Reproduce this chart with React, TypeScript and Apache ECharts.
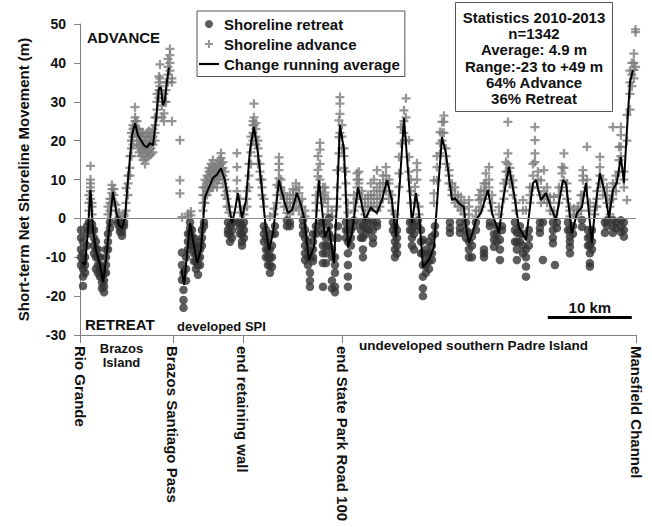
import React, { useEffect, useRef } from "react";
import * as echarts from "echarts";

const FONT = '"Liberation Sans", Arial, Helvetica, sans-serif';

// x = km along shore from Rio Grande, y = net shoreline movement (m)
const xMax = 66.2;
const tickKm = [0, 11.07, 19.4, 31.2, 66.2];
const tickNames = [
  "Rio Grande",
  "Brazos Santiago Pass",
  "end retaining wall",
  "end State Park Road 100",
  "Mansfield Channel",
];
const yTicks = [-30, -20, -10, 0, 10, 20, 30, 40, 50];

const advanceCols: [number, number[]][] = [
  [1.07, [2, 4, 6]], [1.25, [5, 7, 8, 9, 10, 13.5]], [1.43, [1, 3, 4]],
  [3.33, [1, 3]], [3.57, [2, 4, 5]], [3.8, [5, 6.5, 7.5, 8.6]], [4.05, [4, 6, 7.5]],
  [4.29, [2, 3.5]], [4.64, [0.5, 1.5]], [5.24, [0.5, 1]], [5.48, [2, 4, 7.8]],
  [5.71, [6, 9, 11]], [5.95, [11, 13, 16]], [6.13, [16, 18, 20, 22]], [6.31, [19, 21, 23, 24]],
  [6.55, [22, 23.5, 25, 26, 28.6]], [6.79, [19, 21, 23, 25]], [7.02, [17, 18.5, 20, 21.5, 23]],
  [7.26, [16, 17.5, 19, 21, 22]], [7.5, [15, 17, 18, 20, 22]], [7.74, [14, 16, 18, 19.5, 21]],
  [7.98, [15.5, 17, 18.5, 20, 22]], [8.21, [16, 17.5, 19, 21, 22.5]], [8.45, [16.5, 18, 19.5, 21]],
  [8.69, [17, 19, 21, 23]], [8.93, [20, 22, 24, 26]], [9.17, [26, 28, 30, 32]],
  [9.4, [31, 33, 35, 36.5]], [9.52, [34, 36, 39.6]], [9.76, [26, 29, 31]], [10.0, [25, 27, 30, 32]],
  [10.24, [30, 33, 35]], [10.48, [35, 37, 39, 41]], [10.71, [38, 40, 42, 43.6]], [10.95, [25, 35, 36]],
  [11.9, [6.4, 9.8, 20.1]],
  [12.14, [0.3]], [12.86, [0.5, 1.2]], [13.21, [0.8, 1.8]], [14.64, [2, 4, 6, 8]],
  [14.88, [4, 6, 8, 10]], [15.12, [6, 8, 9.5, 11]], [15.36, [7, 9, 10.5, 12, 13]],
  [15.6, [8, 9.5, 11, 12.5, 14]], [15.83, [8, 10, 11.5, 13, 15]], [16.07, [9, 10.5, 12, 13.5]],
  [16.31, [8, 10, 12, 14]], [16.55, [10, 12, 13.5, 15]], [16.79, [11, 12.5, 14, 15.5, 16.8]],
  [17.02, [9, 11, 13, 14.5]], [17.26, [6, 8, 10, 12]], [17.5, [3, 5, 7]], [17.74, [1.5, 3]],
  [18.69, [7, 9.8, 13.2, 16.8]], [19.05, [1.5, 3, 5]], [19.52, [1, 2.5]], [19.88, [3, 5, 7]],
  [20.12, [8, 11, 14]], [20.36, [14, 17, 19, 21]], [20.6, [20, 22, 24, 25]], [20.71, [24, 26, 29.5]],
  [20.95, [19, 21, 23, 24.5]], [21.19, [14, 16, 18, 20]], [21.43, [10, 12, 14]], [21.67, [6, 8, 10]],
  [21.9, [3, 5]], [22.62, [0.5]], [23.1, [1, 2.5]],
  [23.45, [4, 6, 8.6]], [23.69, [8, 10.3, 12.4, 14, 15.7]], [23.93, [6, 8, 10]], [24.29, [3, 5, 6.5]],
  [24.64, [1.4, 3, 5]], [25.0, [1, 2.5, 4, 6]], [25.36, [2, 4, 6, 7.5]], [25.71, [3, 5, 7.3, 9]],
  [26.07, [2.5, 4.5, 6.5, 8]], [26.43, [1, 3, 5]], [26.79, [0.5, 2]], [28.1, [2, 4, 6]],
  [28.33, [8, 10.8, 12.5, 16]], [28.57, [10, 14, 17.7, 19.4]], [28.93, [4, 6, 8]], [29.17, [5, 6.6, 8]],
  [29.52, [1, 3, 5]], [30.0, [0.5, 2]], [30.6, [3, 5, 8, 12.4]], [30.83, [16.7, 20.9, 25.2]],
  [30.95, [22, 26.9, 29.5, 31.2]], [31.19, [18, 21, 24]], [31.43, [13, 16, 18]], [31.67, [6, 9, 12]],
  [31.9, [1.5, 4]], [32.62, [2, 4, 6]], [32.98, [5, 8, 10, 11.6]], [33.21, [6.5, 9, 10, 12]],
  [33.57, [3, 5, 7]], [33.93, [1, 3, 5]], [34.29, [2, 4, 6]], [34.64, [3, 5, 6, 9]],
  [35.0, [3, 5, 7, 10]], [35.36, [2, 4, 6, 8, 12.4]], [35.71, [3, 5, 7, 9]], [36.07, [5, 7, 9, 11]],
  [36.43, [7, 9, 11, 13.2]], [36.79, [5, 7, 9, 10]], [37.14, [2, 4, 6]], [37.5, [1]],
  [37.98, [8.1, 11.6, 15.8]], [38.21, [19.3, 23.5]], [38.57, [22, 25, 27.8]], [38.81, [20, 26, 30.9]],
  [39.17, [12, 15.8, 20.1]], [39.4, [4, 7, 10]], [39.88, [4, 6, 8.1]], [40.12, [10, 12.4, 14.2]],
  [40.36, [1, 3]], [42.14, [4, 6.4, 9.8]], [42.5, [9.8, 13.2, 16]], [42.86, [16.7, 19.3, 22.2]],
  [43.1, [20, 22, 24.8]], [43.33, [22, 24.8, 26.4]], [43.57, [14, 16, 18]], [43.93, [9, 11, 12.4]],
  [44.29, [6, 7.3, 9]], [44.64, [4, 6, 8]], [45.0, [3, 4.5, 6]], [45.36, [2, 4, 5.5]], [45.71, [1, 2.5, 4]],
  [46.31, [1, 3, 4.7]], [47.14, [0.5, 2]], [47.5, [2, 4.7, 6]], [47.74, [3, 5, 7.3]], [48.1, [5, 7, 9]],
  [48.33, [7, 9, 11.6]], [48.69, [8, 10, 13.2]], [49.05, [2, 4, 6]], [49.88, [1, 2.9]],
  [50.48, [5, 7, 9]], [50.71, [10, 12, 14.5]], [50.95, [12, 14, 16.7, 24.8]], [51.19, [9, 11, 13]],
  [51.55, [6, 8, 9.8]], [51.9, [2, 4]], [52.74, [2, 4.7]], [53.1, [2.1]], [53.57, [4, 6, 8]],
  [53.93, [8, 11, 14]], [54.17, [14.5, 16.7, 20.1, 23.5]], [54.52, [8, 10, 12]], [54.88, [4, 6, 9.8]],
  [55.24, [5, 7, 12.4]], [55.6, [4, 6, 8]], [55.95, [2, 4, 5.5]], [56.43, [1, 2, 5.5]],
  [57.02, [4, 6, 8]], [57.38, [8, 11.6, 13.2]], [57.62, [9.8, 13, 16.7]],
  [57.98, [5, 7, 9]], [58.33, [0.5, 2, 3]], [58.81, [1, 2.5]], [59.29, [1, 2, 3]], [59.64, [2, 4, 6]],
  [59.88, [6, 9.8, 11, 12.4]], [60.36, [8, 10, 18.4]], [60.71, [2, 4]], [61.31, [1, 3]],
  [61.55, [3, 5, 7]], [61.9, [9, 11, 13.2, 15.8]], [62.26, [6, 8, 10]], [62.74, [4, 6, 8]],
  [63.1, [1, 3, 4.7]], [63.45, [5, 7, 9, 23.5]], [63.81, [7, 9, 11]], [64.17, [12, 15, 18.4]],
  [64.4, [16, 18.4, 21.4, 23.5]], [64.76, [8, 10, 12]], [65.12, [4.7, 20, 26.6]],
  [65.48, [28, 32, 35, 38]], [65.71, [34, 37, 40]], [65.95, [36, 38.2, 40, 42.4]], [66.15, [39, 47.9, 48.6]],
];

const retreatCols: [number, number[]][] = [
  [0.12, [-3, -5, -8, -10, -12]], [0.36, [-6, -9, -11, -13, -15, -17.4]], [0.6, [-10, -12, -14]],
  [0.83, [-2, -4, -7]], [1.07, [-1, -3]], [1.43, [-1.5, -3]], [1.67, [-3, -5, -7, -9]],
  [1.9, [-6, -8, -10, -13]], [2.14, [-8, -10, -12, -14]], [2.38, [-10, -12, -13.5, -15]],
  [2.62, [-13, -15, -16.5, -18]], [2.86, [-14, -16, -17.5, -19]], [3.1, [-8, -10, -12, -14]],
  [3.33, [-4, -6, -8]], [3.57, [-1, -2.5]], [4.52, [-0.5, -1.5]], [4.76, [-1, -2.5, -3.5]],
  [5.0, [-2, -3.5, -4.5]], [5.24, [-1, -2]],
  [12.14, [-8.8, -12, -15.8]], [12.32, [-14, -18.4, -21, -23]], [12.62, [-10, -13, -16]],
  [12.86, [-4, -6, -8]], [13.1, [-1, -2.5, -4]], [13.33, [-3, -5, -7]], [13.57, [-5, -7, -9, -11]],
  [13.81, [-7, -9, -11, -13]], [14.05, [-8, -10, -12, -14.5]], [14.29, [-6, -8, -10, -12]],
  [14.52, [-3, -5, -7]], [14.76, [-1, -2]], [17.62, [-1, -3, -4]], [17.86, [-2, -4, -6]],
  [18.1, [-1, -3, -5]], [18.57, [-1]], [19.05, [-1, -2.5, -4]], [19.29, [-2, -4, -6, -7]],
  [19.52, [-1, -3, -5]], [21.9, [-2, -4, -6]], [22.14, [-3, -5, -8, -10]], [22.38, [-6, -8, -10, -12]],
  [22.62, [-8, -10, -12, -14]], [22.86, [-4, -7, -10, -12.5]], [23.21, [-2, -4]],
  [24.64, [-0.5, -2]], [25.0, [-1, -2]], [26.55, [-0.5, -2, -4]], [26.79, [-3, -5, -7, -9, -10.7]],
  [27.14, [-6, -8, -10, -12]], [27.38, [-10, -14, -16, -17.6]], [27.74, [-4, -6, -8, -10, -11]],
  [28.1, [-2, -4]], [28.69, [-1, -3]], [28.93, [-1, -4, -7, -9, -11.5, -17.6]],
  [29.29, [-5, -7, -9, -11.5]], [29.64, [0, -2, -4, -7]], [30.0, [-5, -8, -10, -16, -18]],
  [30.36, [-10, -12, -14, -17.6, -19]], [30.71, [-2, -5]], [31.67, [-1, -3, -5]],
  [31.9, [-3, -6, -9, -12, -15, -17.6]], [32.26, [-1, -3, -5, -7]], [32.62, [-0.5, -2]],
  [33.45, [-1, -3, -5]], [33.69, [-2, -5, -8, -10]], [34.05, [-0.5, -2.5, -4]], [34.4, [-1, -3]],
  [34.88, [-1, -3, -5, -6.4]], [35.36, [-1, -2]], [37.26, [-1, -3]], [37.5, [-2, -4, -6, -8, -10]],
  [37.74, [-3, -5, -7, -9]], [39.29, [-1, -3]], [39.52, [-1, -3, -5, -7]], [39.76, [-2, -4, -8]],
  [40.24, [-0.5, -2]], [40.6, [-3, -6, -9]], [40.83, [-5.5, -9, -12, -15, -18, -20]],
  [41.19, [-8, -10, -12, -14]], [41.55, [-6, -9, -11, -13]], [41.9, [-4.7, -7, -9, -10.7]],
  [42.26, [-2, -4]], [44.05, [-1, -2.5, -3.7]], [45.24, [-1, -2.5, -3.7]], [45.95, [-1, -3, -5]],
  [46.31, [-3.7, -6, -8, -10]], [46.67, [-4.7, -7, -10]], [47.14, [-1, -3]],
  [48.1, [-8, -9, -10]], [48.81, [-1, -2]], [49.29, [-4, -5.5, -7.3]], [49.64, [-2, -4, -6]],
  [50.0, [-5.5, -8, -10.7]], [50.24, [-2, -3]], [51.79, [-1, -3, -6]], [52.02, [-3.7, -6, -8, -10.7]],
  [52.38, [-2, -4, -6]], [52.74, [-4, -7, -9]], [53.1, [-8, -10, -12.4, -15]], [53.45, [-3, -5, -7]],
  [54.76, [-1, -2.5, -3.7]], [55.12, [-1, -10.7]], [56.31, [-1, -3, -5, -6.4]], [56.55, [-12]],
  [56.79, [-1, -2.5]], [58.1, [-1, -3]], [58.33, [-3, -4.7, -6, -7.3, -9]], [58.69, [-2, -4]],
  [59.76, [-0.4, -2.2]], [60.48, [-3, -5, -7]], [60.71, [-4.7, -7, -9, -11.5, -12.4]],
  [60.95, [-3, -6, -8]], [62.5, [-1, -3.7]], [62.74, [-0.5, -2]], [63.45, [-0.4, -2, -3.7]],
  [63.81, [-1, -2.5]], [64.4, [-0.5, -2, -3.5]], [64.76, [-1, -3, -4.7]],
];

const runningAvg: [number, number | null][] = [
  [0.24, -11.2], [0.6, -12.0], [0.95, -3.0], [1.25, 7.3], [1.55, -3.0], [1.9, -8.2], [2.38, -12.0],
  [2.74, -16.4], [3.1, -10.7], [3.57, -0.4], [3.93, 6.8], [4.29, 2.1], [4.64, -1.7], [5.0, -2.5],
  [5.36, 0.1], [5.71, 9.8], [6.19, 21.4], [6.55, 24.5], [6.9, 21.4], [7.26, 20.1], [7.62, 18.8],
  [7.98, 18.3], [8.33, 19.4], [8.69, 18.8], [9.05, 25.3], [9.4, 33.5], [9.64, 33.7], [9.88, 29.1],
  [10.12, 30.4], [10.36, 35.5], [10.6, 38.8],
  [11.5, null],
  [12.1, -13.1], [12.4, -17.1], [13.1, -1.2], [13.45, -5.6], [13.93, -11.5], [14.4, -8.1],
  [14.88, 5.5], [15.36, 8.0], [15.83, 10.4], [16.3, 11.2], [16.79, 12.9], [17.26, 9.8], [17.74, 3.4],
  [18.1, -1.2], [18.45, 2.1], [18.8, 6.5], [19.29, 0.1], [19.76, 4.7], [20.24, 17.6], [20.71, 23.5],
  [21.19, 16.8], [21.55, 9.8], [21.79, 4.7], [22.14, -3.0], [22.5, -8.1], [22.98, -3.8],
  [23.69, 9.8], [24.29, 4.7], [24.76, 1.4], [25.24, 2.1], [25.83, 6.5], [26.31, 3.4], [26.67, 0.3],
  [27.26, -10.7], [27.86, -7.4], [28.45, 9.8], [29.17, -4.8], [29.64, -2.2], [30.24, -11.5],
  [30.6, 4.7], [30.95, 24.0], [31.43, 17.6], [31.9, -7.4], [32.38, -3.8], [33.1, 8.0], [33.57, 3.4],
  [33.93, -0.4], [34.64, 2.9], [34.88, 2.1], [35.36, 1.4], [35.95, 4.7], [36.55, 9.8], [37.14, 4.7],
  [37.62, -4.8], [38.1, 9.8], [38.57, 25.8], [38.93, 15.8], [39.52, -1.2], [40.0, 6.5], [40.36, 1.4],
  [40.83, -12.5], [41.55, -10.7], [42.14, -7.4], [42.62, 7.3], [43.1, 20.9], [43.57, 16.8],
  [44.05, 8.6], [44.29, 4.7], [44.64, 5.2], [45.12, 3.9], [45.71, 2.9], [45.95, -2.2], [46.31, -6.3],
  [46.79, -3.5], [47.14, -0.4], [47.74, 1.4], [48.57, 7.3], [49.05, 1.4], [49.88, -3.8], [50.36, 4.7],
  [51.07, 13.2], [51.67, 6.5], [52.26, -2.2], [53.1, -5.6], [53.93, 9.1], [54.29, 9.8], [54.88, 4.7],
  [55.48, 6.5], [56.07, 2.9], [56.67, -0.4], [57.5, 9.8], [57.86, 9.1], [58.57, -3.8], [59.17, 1.4],
  [59.76, 2.9], [60.24, 9.1], [60.95, -6.3], [61.31, 2.1], [61.9, 11.6], [62.5, 6.5], [62.98, 0.1],
  [63.45, 7.3], [63.93, 9.3], [64.4, 15.8], [64.76, 9.1], [65.12, 22.7], [65.48, 35.0], [65.83, 38.1],
];

const scaleBarKm = [55.7, 65.7];
const scaleBarY = -25.5;

const statsLines = [
  "Statistics 2010-2013",
  "n=1342",
  "Average: 4.9 m",
  "Range:-23 to +49 m",
  "64% Advance",
  "36% Retreat",
];

const flatten = (cols: [number, number[]][]) =>
  cols.flatMap(([x, vs]) => vs.map((v) => [x, v]));

const PLUS = "path://M3,0H5V3H8V5H5V8H3V5H0V3H3Z";
const LINE_ICON = "path://M0,0H20V2.2H0Z";

export default function App() {
  const ref = useRef<HTMLDivElement>(null);
  useEffect(() => {
    if (!ref.current) return;
    const chart = echarts.init(ref.current, undefined, { renderer: "svg" });
    const txt = (text: string, x: number, y: number, size: number, align = "left", extra: any = {}) => ({
      type: "text",
      x,
      y,
      style: {
        text,
        fontFamily: FONT,
        fontSize: size,
        fontWeight: "bold",
        fill: "#111",
        textAlign: align,
        align,
        textVerticalAlign: "middle",
        verticalAlign: "middle",
        ...extra,
      },
      z: 10,
    });
    chart.setOption({
      animation: false,
      backgroundColor: "#fff",
      grid: { left: 80, right: 16, top: 24, bottom: 192, containLabel: false },
      legend: {
        orient: "vertical",
        left: 197,
        top: 11,
        padding: [5.5, 5, 5, 2],
        itemGap: 5,
        itemWidth: 20,
        itemHeight: 8,
        borderColor: "#555",
        borderWidth: 1,
        backgroundColor: "#fff",
        selectedMode: false,
        textStyle: { fontFamily: FONT, fontSize: 15, fontWeight: "bold", color: "#111" },
        data: [
          { name: "Shoreline retreat" },
          { name: "Shoreline advance" },
          { name: "Change running average", icon: LINE_ICON, itemStyle: { color: "#000" } },
        ],
      },
      xAxis: {
        type: "value",
        min: 0,
        max: xMax,
        splitLine: { show: false },
        axisLine: { show: true, onZero: false, lineStyle: { color: "#808080", width: 1 } },
        axisTick: { show: true, customValues: tickKm, length: 8, lineStyle: { color: "#808080" } },
        axisLabel: {
          show: true,
          customValues: tickKm,
          rotate: -90,
          margin: 11,
          showMinLabel: true,
          showMaxLabel: true,
          fontFamily: FONT,
          fontSize: 15,
          fontWeight: "bold",
          color: "#111",
          formatter: (v: number) => {
            const i = tickKm.findIndex((t) => Math.abs(t - v) < 1e-6);
            return i >= 0 ? tickNames[i] : "";
          },
        },
      },
      yAxis: {
        type: "value",
        min: yTicks[0],
        max: yTicks[yTicks.length - 1],
        interval: 10,
        name: "Short-term Net Shoreline Movement (m)",
        nameLocation: "middle",
        nameGap: 49,
        nameTextStyle: { fontFamily: FONT, fontSize: 15, fontWeight: "bold", color: "#111" },
        splitLine: { show: false },
        axisLine: { show: true, lineStyle: { color: "#808080", width: 1 } },
        axisTick: { show: true, length: 6, lineStyle: { color: "#808080" } },
        axisLabel: { margin: 14, fontFamily: FONT, fontSize: 14, fontWeight: "bold", color: "#111" },
      },
      series: [
        {
          name: "Shoreline advance",
          type: "scatter",
          symbol: PLUS,
          symbolSize: 9,
          itemStyle: { color: "#7c7c7c" },
          data: flatten(advanceCols),
          z: 2,
          markLine: {
            silent: true,
            symbol: "none",
            label: { show: false },
            lineStyle: { color: "#8a8a8a", width: 1, type: "solid" },
            data: [{ yAxis: 0 }],
          },
        },
        {
          name: "Shoreline retreat",
          type: "scatter",
          symbol: "circle",
          symbolSize: 8.5,
          itemStyle: { color: "#353535" },
          data: flatten(retreatCols),
          z: 3,
        },
        {
          name: "Change running average",
          type: "line",
          symbol: "none",
          showSymbol: false,
          connectNulls: false,
          lineStyle: { color: "#000", width: 2 },
          itemStyle: { color: "#000" },
          data: runningAvg,
          z: 4,
          markLine: {
            silent: true,
            symbol: "none",
            lineStyle: { color: "#000", width: 3, type: "solid" },
            label: {
              show: true,
              position: "insideMiddleTop",
              distance: 3,
              formatter: "10 km",
              fontFamily: FONT,
              fontSize: 15,
              fontWeight: "bold",
              color: "#111",
            },
            data: [[{ coord: [scaleBarKm[0], scaleBarY] }, { coord: [scaleBarKm[1], scaleBarY] }]],
          },
        },
      ],
      graphic: [
        txt("ADVANCE", 87, 37, 15),
        txt("RETREAT", 85, 324, 15),
        txt("developed SPI", 177, 326.5, 13),
        txt("Brazos", 121.5, 348, 13, "center"),
        txt("Island", 121.5, 362.5, 13, "center"),
        txt("undeveloped southern Padre Island", 473.5, 345, 13.5, "center"),
        {
          type: "rect",
          shape: { x: 455.5, y: 2.5, width: 157, height: 109 },
          style: { fill: "#fff", stroke: "#555", lineWidth: 1 },
          z: 9,
        },
        {
          type: "text",
          x: 534,
          y: 9,
          z: 10,
          style: {
            text: statsLines.join("\n"),
            fontFamily: FONT,
            fontSize: 15,
            fontWeight: "bold",
            fill: "#111",
            lineHeight: 16.3,
            textAlign: "center",
            align: "center",
            textVerticalAlign: "top",
            verticalAlign: "top",
          },
        },
      ],
    });
    return () => chart.dispose();
  }, []);
  return (
    <div
      ref={ref}
      style={{ position: "absolute", left: 0, top: 0, width: 652, height: 527, background: "#fff" }}
    />
  );
}
